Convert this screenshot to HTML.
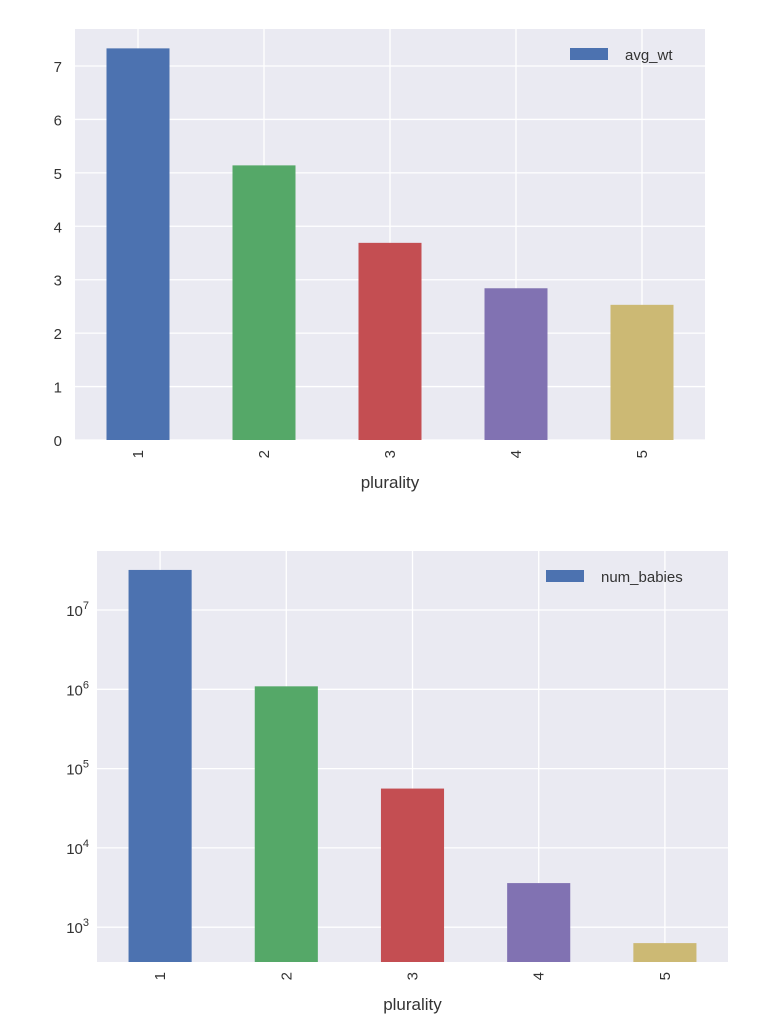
<!DOCTYPE html>
<html><head><meta charset="utf-8"><style>
body{margin:0;background:#fff;font-family:"Liberation Sans","DejaVu Sans",sans-serif}
svg text{font-family:"Liberation Sans","DejaVu Sans",sans-serif;fill:#333}
</style></head><body>
<svg id="c" width="765" height="1024"></svg>
<script>
const categories=["1","2","3","4","5"];
const avgWt=[7.33,5.14,3.69,2.84,2.53];
const numBabies=[32000000,1090000,56000,3600,630];
const linTicks=[0,1,2,3,4,5,6,7];
const logTicks=[3,4,5,6,7];
const colors=["#4c72b0","#55a868","#c44e52","#8172b2","#ccb974"];
const NS="http://www.w3.org/2000/svg";
const svg=document.getElementById('c');
function mk(t,a,p,txt){const e=document.createElementNS(NS,t);for(const k in a)e.setAttribute(k,a[k]);if(txt!==undefined)e.textContent=txt;(p||svg).appendChild(e);return e;}
function panel(o){
 const g=mk('g',{});
 
 
 const bg=mk('rect',{x:o.x0,y:o.y0,width:o.x1-o.x0,height:o.y1-o.y0,fill:'#eaeaf2'},g);
 
 
 const n=categories.length,step=(o.x1-o.x0)/n;
 const xs=i=>o.x0+step*(i+0.5);
 o.ticks.forEach(t=>{const y=o.ys(o.log?Math.pow(10,t):t);
  const l=mk('line',{x1:o.x0,x2:o.x1,y1:y,y2:y,stroke:'#fff','stroke-width':1.3},g);
  
  
  let tx;
  if(o.log){tx=mk('text',{x:o.x0-8,y:y+6,'text-anchor':'end','font-size':15},g);
   const a=mk('tspan',{},tx,'10');const b=mk('tspan',{dy:-7,'font-size':11},tx,String(t));}
  else tx=mk('text',{x:o.x0-13,y:y+6,'text-anchor':'end','font-size':15},g,String(t));
  
  
 });
 categories.forEach((c,i)=>{const l=mk('line',{x1:xs(i),x2:xs(i),y1:o.y0,y2:o.y1,stroke:'#fff','stroke-width':1.3},g);
  
  });
 const bw=step*0.5;
 o.vals.forEach((v,i)=>{const yt=o.ys(v);
  const r=mk('rect',{x:xs(i)-bw/2,y:yt,width:bw,height:o.y1-yt,fill:colors[i]},g);
  
  
  const t=mk('text',{x:0,y:0,'font-size':15,'text-anchor':'end',transform:`translate(${xs(i)+5},${o.y1+10}) rotate(-90)`},g,categories[i]);
  
  
 });
 const xl=mk('text',{x:(o.x0+o.x1)/2,y:o.y1+48,'text-anchor':'middle','font-size':17},g,'plurality');
 
 
 const lg=mk('g',{},g);
 
 
 mk('rect',{x:o.lx,y:o.y0+19,width:38,height:12,fill:colors[0]},lg);
 mk('text',{x:o.lx+55,y:o.y0+31,'font-size':15},lg,o.label);
}
const ys1=v=>440-v*(440-66)/7;
panel({name:'avg-wt-chart',x0:75,x1:705,y0:29,y1:440,ys:ys1,ticks:linTicks,vals:avgWt,label:'avg_wt',lx:570,log:false});
const ys2=v=>610-(Math.log10(v)-7)*79.3;
panel({name:'num-babies-chart',x0:97,x1:728,y0:551,y1:962,ys:ys2,ticks:logTicks,vals:numBabies,label:'num_babies',lx:546,log:true});
</script>
</body></html>
